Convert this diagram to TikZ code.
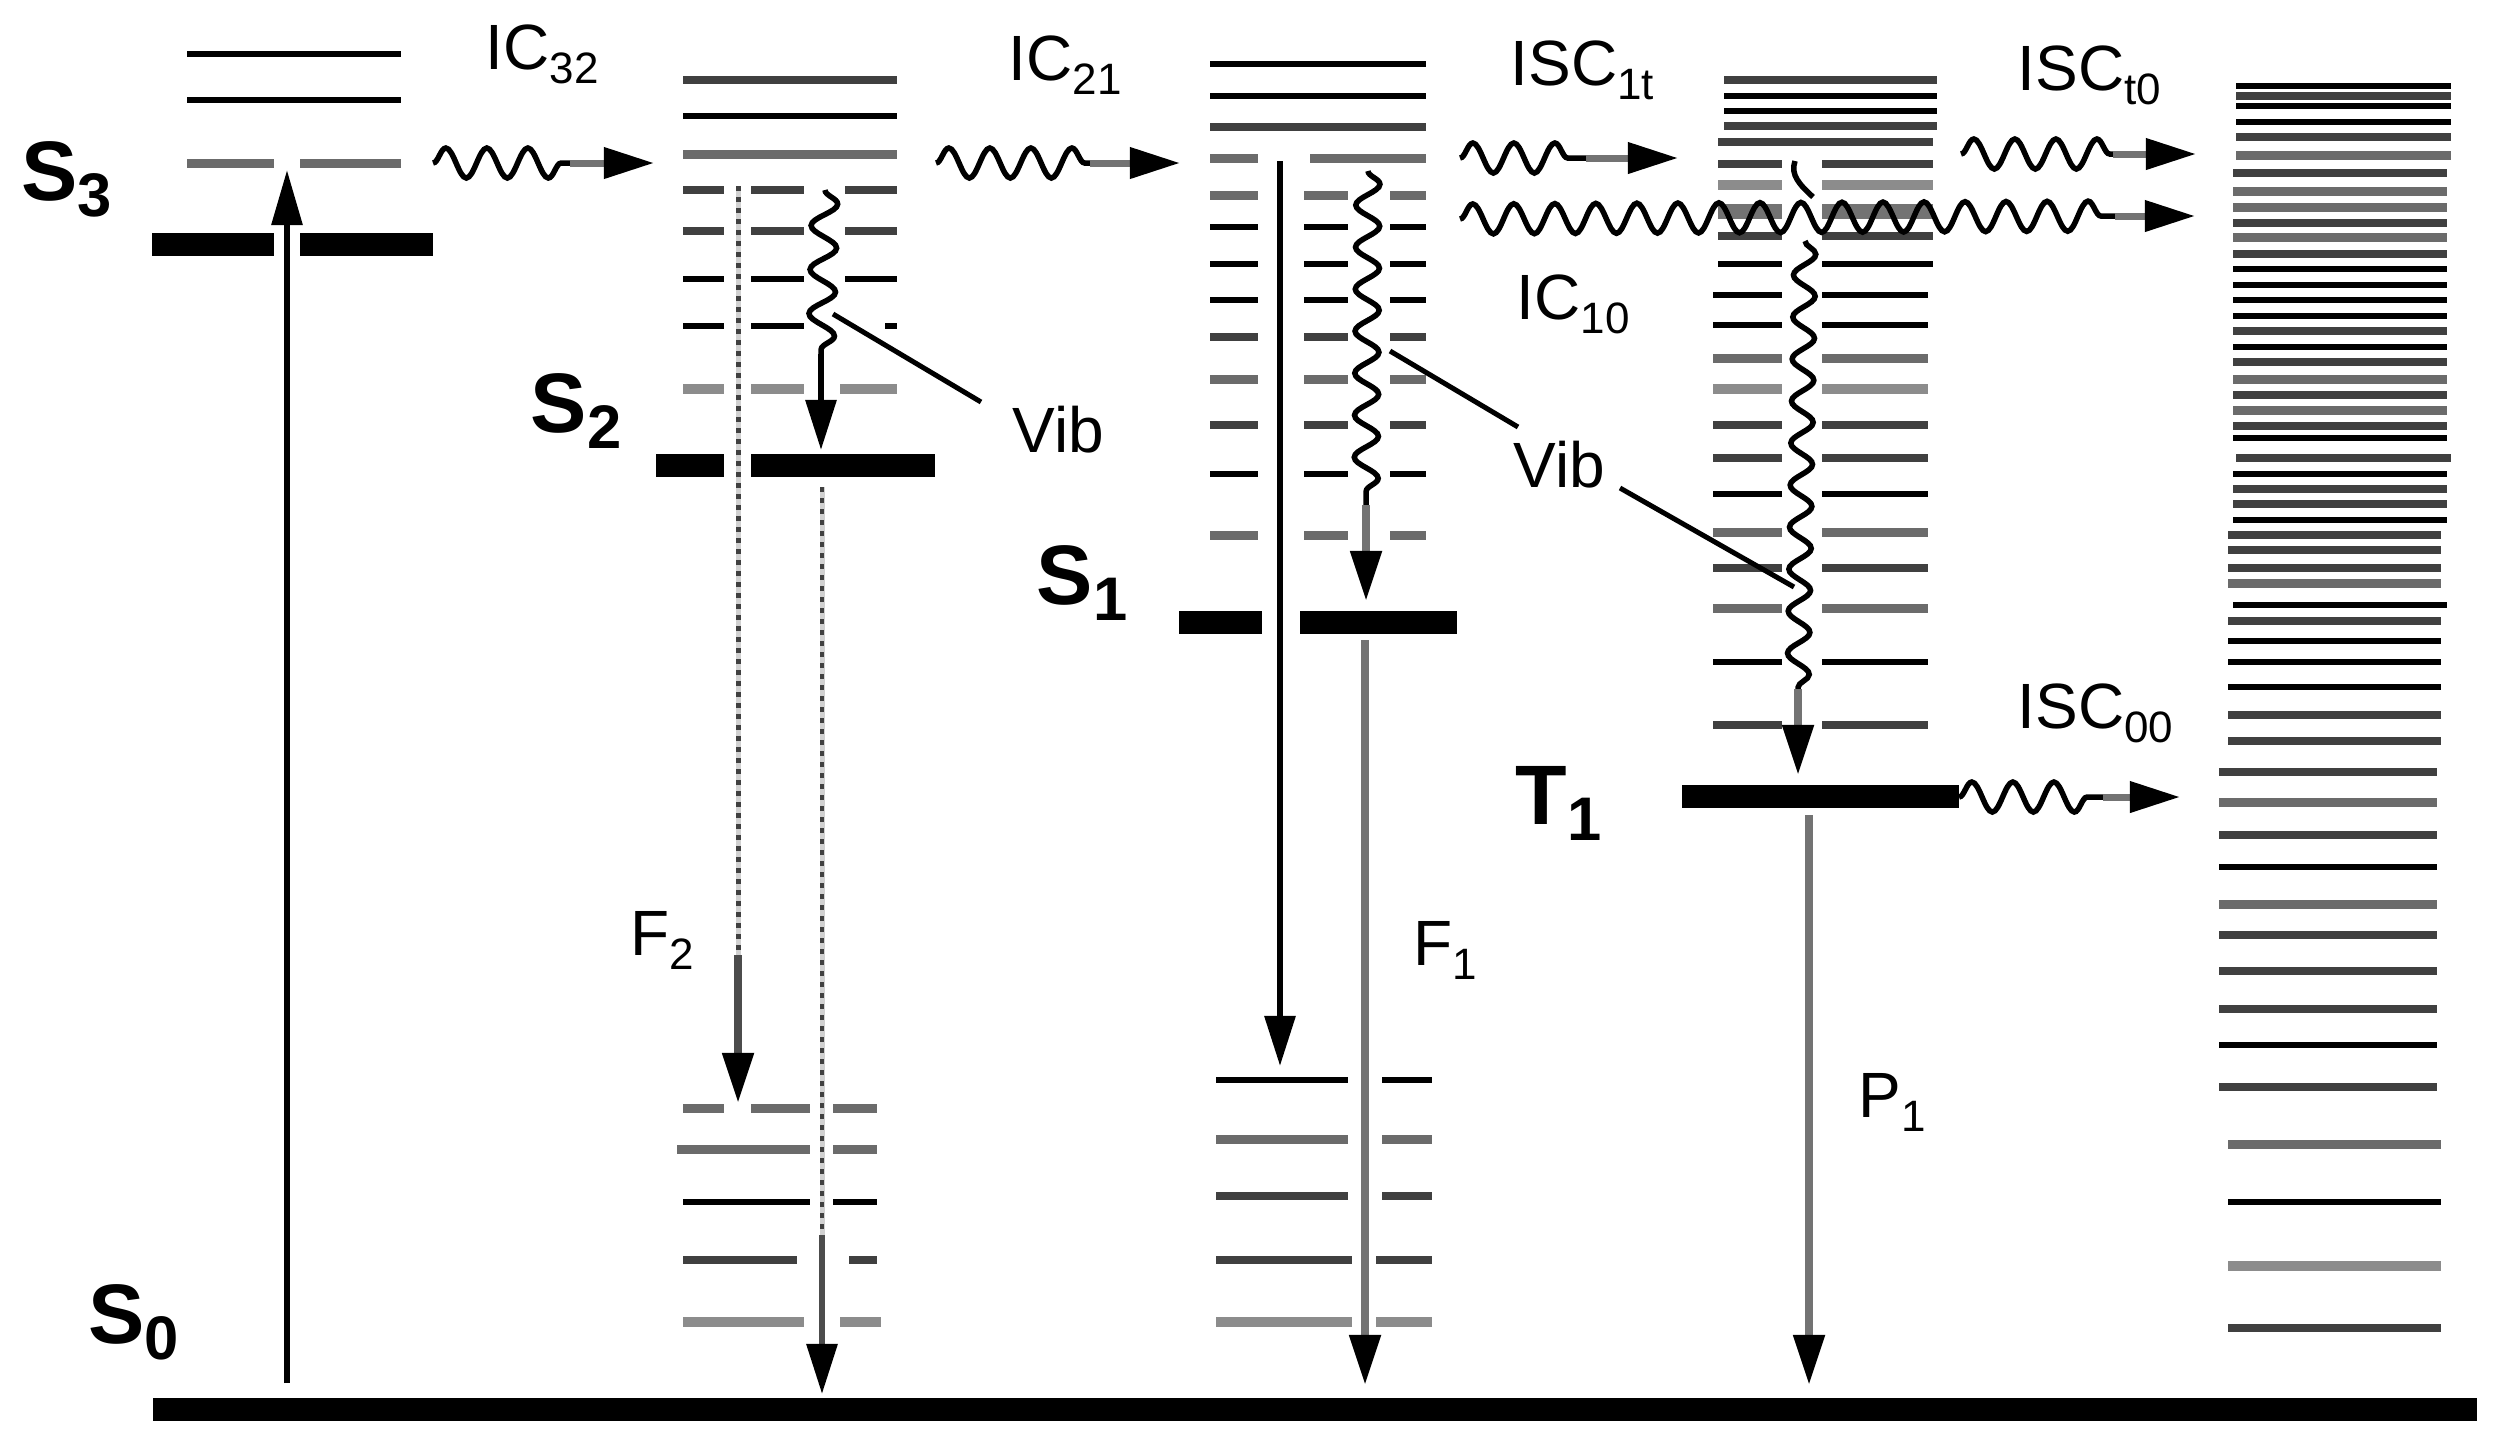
\documentclass[tikz,border=0pt]{standalone}
\usepackage{fontspec}
\setmainfont{Liberation Sans}
\usetikzlibrary{arrows.meta, decorations.pathmorphing}
\tikzset{
  >={Triangle[length=5mm,width=3mm,color=black]},
  lk/.style={line width=.06cm,black},
  ld/.style={line width=.08cm,black!75},
  lm/.style={line width=.09cm,black!58},
  ll/.style={line width=.1cm,black!45},
  lt/.style={line width=.15cm,black!55},
  bar/.style={line width=.23cm,black},
  wave/.style={line width=.055cm,black,decorate,
    decoration={snake,segment length=.41cm,amplitude=.15cm}},
  tail/.style={line width=.07cm,black!55},
  thin arrow/.style={line width=.06cm,black},
  gray arrow/.style={line width=.08cm,black!55},
  dots/.style={line width=.05cm,black!75,dash pattern=on .05cm off .06cm,
    preaction={draw=black!18,solid,line width=.05cm}},
  vib/.style={line width=.05cm,black},
  biglab/.style={inner sep=0,anchor=base west},
  smalllab/.style={inner sep=0,anchor=base west}
}
\newcommand{\levels}[2]{%
  \foreach \xa/\xb in {#1}{
    \foreach \yy/\cc in {#2}{
      \draw[\cc] (\xa,\yy) -- (\xb,\yy);
    }
  }
}
\newcommand{\biglabel}[2]{\fontsize{24pt}{24pt}\selectfont\bfseries #1\raisebox{-.16cm}{\fontsize{17.5pt}{17.5pt}\selectfont #2}}
\newcommand{\smalllabel}[2]{\fontsize{18.2pt}{18.2pt}\selectfont #1\raisebox{-.14cm}{\fontsize{12.5pt}{12.5pt}\selectfont #2}}
\begin{document}
\begin{tikzpicture}[x=.01cm,y=-.01cm]
    \useasboundingbox (0,0) rectangle (2505,1444);

    \levels{187/401}{54/lk,100/lk}
    \levels{187/274,300/401}{163/lm}
    \levels{152/274,300/433}{244/bar}

    \levels{683/897}{80/ld,116/lk,154/lm}
    \levels{683/724,751/804,845/897}{190/ld,231/ld,279/lk}
    \levels{683/724,751/804,885/897}{326/lk}
    \levels{683/724,751/804,840/897}{389/ll}
    \levels{656/724,751/935}{465/bar}

    \levels{1210/1426}{64/lk,96/lk,127/ld}
    \levels{1210/1258,1310/1426}{158/lm}
    \levels{1210/1258,1304/1348,1390/1426}{195/lm,227/lk,264/lk,300/lk,337/ld,379/lm,425/ld,474/lk,535/lm}
    \levels{1179/1262,1300/1457}{622/bar}

    \levels{1724/1937}{80/ld,96/lk,111/lk,126/ld}
    \levels{1718/1933}{142/ld}
    \levels{1718/1782,1822/1933}{164/ld,185/ll,211/lt,236/ld,264/lk}
    \levels{1713/1782,1822/1928}{295/lk,325/lk,358/lm,389/ll,425/ld,458/ld,494/lk,532/lm,568/ld,608/lm,662/lk,725/ld}
    \levels{1682/1959}{796/bar}

    \levels{2236/2451}{86/lk,96/ld,106/lk,122/lk,137/ld,155/lm,458/ld}
    \levels{2233/2447}{173/ld,191/lm,207/lm,223/ld,237/lm,254/ld,269/lk,285/lk,300/lk,316/lk,331/ld,347/lk,362/ld,379/lm,395/ld,410/lm,426/ld,438/lk,474/lk,489/ld,504/ld,520/lk,605/lk}
    \levels{2228/2441}{535/ld,550/ld,568/ld,583/lm,621/ld,641/lk,662/lk,687/lk,715/ld,741/ld}
    \levels{2219/2437}{772/ld,802/lm,835/ld,867/lk,904/lm,935/ld,971/ld,1009/ld,1045/lk,1087/ld}
    \levels{2228/2441}{1144/lm,1202/lk,1266/ll,1328/ld}

    \levels{683/724,751/810,833/877}{1108/lm}
    \levels{677/810,833/877}{1149/lm}
    \levels{683/810,833/877}{1202/lk}
    \levels{683/797,849/877}{1260/ld}
    \levels{683/804,840/881}{1322/ll}

    \levels{1216/1348,1382/1432}{1080/lk,1139/lm,1196/ld}
    \levels{1216/1352,1376/1432}{1260/ld,1322/ll}

    \levels{153/2477}{1409/bar}

    \node[biglab] (sthree) at (21,200) {\biglabel{S}{3}};
    \node[biglab] (stwo) at (530,432) {\biglabel{S}{2}};
    \node[biglab] (sone) at (1036,604) {\biglabel{S}{1}};
    \node[biglab] (szero) at (88,1343) {\biglabel{S}{0}};
    \node[biglab] (tone) at (1515,824) {\biglabel{T}{1}};

    \node[smalllab] (icthree) at (485,69) {\smalllabel{IC}{32}};
    \node[smalllab] (ictwo) at (1008,80) {\smalllabel{IC}{21}};
    \node[smalllab] (isconet) at (1510,85) {\smalllabel{ISC}{1t}};
    \node[smalllab] (isctzero) at (2017,90) {\smalllabel{ISC}{t0}};
    \node[smalllab] (icone) at (1516,319) {\smalllabel{IC}{10}};
    \node[smalllab] (isczero) at (2017,728) {\smalllabel{ISC}{00}};
    \node[smalllab] (vibtwo) at (1012,452) {\smalllabel{Vib}{}};
    \node[smalllab] (vibone) at (1513,487) {\smalllabel{Vib}{}};
    \node[smalllab] (ftwo) at (630,955) {\smalllabel{F}{2}};
    \node[smalllab] (fone) at (1413,965) {\smalllabel{F}{1}};
    \node[smalllab] (pone) at (1858,1117) {\smalllabel{P}{1}};

    \coordinate (excl) at (287,1383);
    \coordinate (exch) at (287,170);
    \coordinate (icA) at (433,163);
    \coordinate (icAe) at (570,163);
    \coordinate (icAt) at (654,163);
    \coordinate (icB) at (936,163);
    \coordinate (icBe) at (1090,163);
    \coordinate (icBt) at (1180,163);
    \coordinate (iscA) at (1460,158);
    \coordinate (iscAe) at (1586,158);
    \coordinate (iscAt) at (1678,158);
    \coordinate (iscB) at (1961,154);
    \coordinate (iscBe) at (2113,154);
    \coordinate (iscBt) at (2196,154);
    \coordinate (iscC) at (1460,219);
    \coordinate (iscCe) at (2115,216);
    \coordinate (iscCt) at (2195,216);
    \coordinate (iscD) at (1959,797);
    \coordinate (iscDe) at (2103,797);
    \coordinate (iscDt) at (2180,797);
    \coordinate (vibA) at (825,190);
    \coordinate (vibAe) at (821,354);
    \coordinate (vibAt) at (821,450);
    \coordinate (vibB) at (1368,171);
    \coordinate (vibBe) at (1366,505);
    \coordinate (vibBt) at (1366,601);
    \coordinate (vibC) at (1805,241);
    \coordinate (vibCe) at (1798,689);
    \coordinate (vibCt) at (1798,775);
    \coordinate (vibD) at (1795,161);
    \coordinate (vibDe) at (1813,197);
    \coordinate (ftwoa) at (738,186);
    \coordinate (ftwob) at (738,955);
    \coordinate (ftwot) at (738,1103);
    \coordinate (ftwoc) at (822,487);
    \coordinate (ftwod) at (822,1235);
    \coordinate (ftwou) at (822,1394);
    \coordinate (fonea) at (1280,161);
    \coordinate (fonet) at (1280,1066);
    \coordinate (foneb) at (1365,640);
    \coordinate (foneu) at (1365,1385);
    \coordinate (ponea) at (1809,815);
    \coordinate (ponet) at (1809,1385);

    \draw[wave] (icA) -- (icAe);
    \draw[wave] (icB) -- (icBe);
    \draw[wave] (iscA) -- (iscAe);
    \draw[wave] (iscB) -- (iscBe);
    \draw[wave] (iscC) -- (iscCe);
    \draw[wave] (iscD) -- (iscDe);
    \draw[wave,decoration={amplitude=.13cm,segment length=.44cm}] (vibA) -- (vibAe);
    \draw[wave,decoration={amplitude=.12cm,segment length=.42cm}] (vibB) -- (vibBe);
    \draw[wave,decoration={amplitude=.11cm,segment length=.42cm}] (vibC) -- (vibCe);
    \draw[line width=.055cm] (vibD) .. controls (1790,175) and (1800,185) .. (vibDe);

    \path[->]
    (excl) edge[thin arrow,>={Triangle[length=5.5mm,width=3mm]}] (exch)
    (icAe) edge[tail] (icAt)
    (icBe) edge[tail] (icBt)
    (iscAe) edge[tail] (iscAt)
    (iscBe) edge[tail] (iscBt)
    (iscCe) edge[tail] (iscCt)
    (iscDe) edge[tail] (iscDt)
    (vibAe) edge[thin arrow] (vibAt)
    (vibBe) edge[gray arrow] (vibBt)
    (vibCe) edge[gray arrow] (vibCt)
    (ftwob) edge[gray arrow,black!70] (ftwot)
    (ftwod) edge[thin arrow,black!70] (ftwou)
    (fonea) edge[thin arrow] (fonet)
    (foneb) edge[gray arrow] (foneu)
    (ponea) edge[gray arrow] (ponet);

    \draw[dots] (ftwoa) -- (ftwob);
    \draw[dots,line width=.04cm] (ftwoc) -- (ftwod);

    \coordinate (vibAl) at (833,314);
    \coordinate (vibAr) at (981,402);
    \coordinate (vibBl) at (1390,351);
    \coordinate (vibBr) at (1518,427);
    \coordinate (vibCl) at (1620,488);
    \coordinate (vibCr) at (1794,587);
    \draw[vib] (vibAl) -- (vibAr);
    \draw[vib] (vibBl) -- (vibBr);
    \draw[vib] (vibCl) -- (vibCr);
  \end{tikzpicture}
\end{document}
